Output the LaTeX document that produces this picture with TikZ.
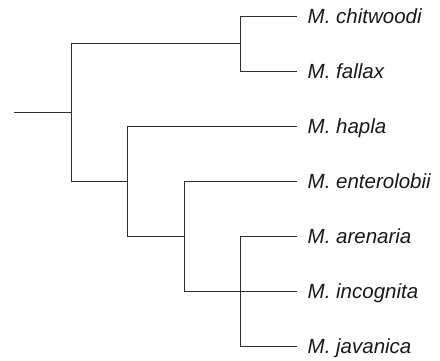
\documentclass[tikz,border=0pt]{standalone}
\usepackage{fontspec}
\setmainfont{Liberation Sans}
\usetikzlibrary{calc}
\begin{document}
\begin{tikzpicture}[x=1pt,y=-1pt,
  branch/.style={line width=1.3pt,draw=black!82,line cap=rect},
  taxon/.style={anchor=base west,inner sep=0pt,text=black!90,font=\fontsize{20.5}{23}\selectfont\itshape}]
\useasboundingbox (0,0) rectangle (440,361);
% leaf tips
\coordinate (t1) at (296.5,16.5);
\coordinate (t2) at (296.5,71.5);
\coordinate (t3) at (296.5,126.5);
\coordinate (t4) at (296.5,181.5);
\coordinate (t5) at (296.5,236.5);
\coordinate (t6) at (296.5,291.5);
\coordinate (t7) at (296.5,346.5);
% internal nodes
\coordinate (cf) at (240.5,43.5);   % chitwoodi + fallax
\coordinate (ai) at (240.5,291.5);  % arenaria, incognita, javanica
\coordinate (en) at (184.5,236.5);  % enterolobii + (ai)
\coordinate (ha) at (127.5,181.5);  % hapla + (en)
\coordinate (rt) at (71.5,112.5);   % root
\coordinate (base) at (14.5,112.5);
% labels
\foreach \i/\name in {1/chitwoodi,2/fallax,3/hapla,4/enterolobii,5/arenaria,6/incognita,7/javanica}
  \node[taxon] (l\i) at ($(t\i)+(11,7.4)$) {M. \name};
% branches
\draw[branch] (base) -- (rt);
\draw[branch] (rt) |- (cf);
\draw[branch] (rt) |- (ha);
\draw[branch] (cf) |- (t1);
\draw[branch] (cf) |- (t2);
\draw[branch] (ha) |- (t3);
\draw[branch] (ha) |- (en);
\draw[branch] (en) |- (t4);
\draw[branch] (en) |- (ai);
\draw[branch] (ai) |- (t5);
\draw[branch] (ai) -- (t6);
\draw[branch] (ai) |- (t7);
\end{tikzpicture}
\end{document}
